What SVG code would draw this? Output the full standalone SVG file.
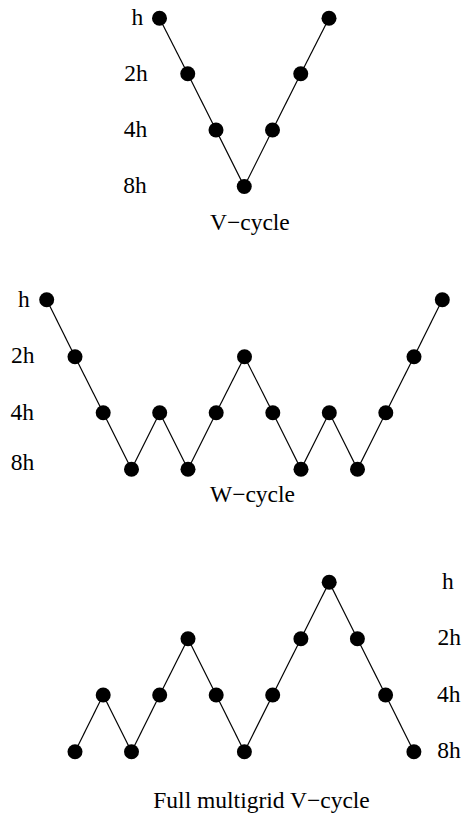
<svg xmlns="http://www.w3.org/2000/svg" width="467" height="814" viewBox="0 0 467 814">
  <style>
    .lbl { font-family: "Liberation Serif", "Times New Roman", serif; font-size: 23.5px; fill: #000; }
    .edge { stroke: #000; stroke-width: 1.2; fill: none; }
    .node { fill: #000; }
  </style>
  <defs>
    <circle id="dot" r="7.5" class="node"/>
  </defs>
  <rect width="467" height="814" fill="#fff"/>

  <!-- level labels and captions -->
  <g id="labels">
    <text class="lbl" x="131.5" y="25">h</text>
    <text class="lbl" x="124.3" y="80.5">2h</text>
    <text class="lbl" x="123.7" y="136.7">4h</text>
    <text class="lbl" x="123.2" y="193">8h</text>
    <text class="lbl" x="210" y="230">V−cycle</text>

    <text class="lbl" x="18" y="306.7">h</text>
    <text class="lbl" x="11" y="363.3">2h</text>
    <text class="lbl" x="10.4" y="420">4h</text>
    <text class="lbl" x="10.8" y="470">8h</text>
    <text class="lbl" x="210" y="501.7">W−cycle</text>

    <text class="lbl" x="442" y="589">h</text>
    <text class="lbl" x="437.6" y="645">2h</text>
    <text class="lbl" x="437" y="701.7">4h</text>
    <text class="lbl" x="437.2" y="758.3">8h</text>
    <text class="lbl" x="153.3" y="808">Full multigrid V−cycle</text>
  </g>

  <!-- connectors -->
  <g id="connectors" class="edge">
    <!-- V-cycle -->
    <line x1="159.5" y1="18.3" x2="187.75" y2="73.8"/>
    <line x1="187.75" y1="73.8" x2="216" y2="130"/>
    <line x1="216" y1="130" x2="244.25" y2="186.5"/>
    <line x1="244.25" y1="186.5" x2="272.5" y2="130"/>
    <line x1="272.5" y1="130" x2="300.75" y2="73.8"/>
    <line x1="300.75" y1="73.8" x2="329" y2="18.3"/>
    <!-- W-cycle -->
    <line x1="46.7" y1="299.7" x2="75" y2="356.7"/>
    <line x1="75" y1="356.7" x2="103.2" y2="412.7"/>
    <line x1="103.2" y1="412.7" x2="131.5" y2="469.3"/>
    <line x1="131.5" y1="469.3" x2="159.7" y2="412.7"/>
    <line x1="159.7" y1="412.7" x2="188" y2="469.3"/>
    <line x1="188" y1="469.3" x2="216.2" y2="412.7"/>
    <line x1="216.2" y1="412.7" x2="244.5" y2="356.7"/>
    <line x1="244.5" y1="356.7" x2="272.8" y2="412.7"/>
    <line x1="272.8" y1="412.7" x2="301" y2="469.3"/>
    <line x1="301" y1="469.3" x2="329.3" y2="412.7"/>
    <line x1="329.3" y1="412.7" x2="357.5" y2="469.3"/>
    <line x1="357.5" y1="469.3" x2="385.8" y2="412.7"/>
    <line x1="385.8" y1="412.7" x2="414" y2="356.7"/>
    <line x1="414" y1="356.7" x2="442.3" y2="299.7"/>
    <!-- Full multigrid V-cycle -->
    <line x1="75" y1="751.7" x2="103.2" y2="695"/>
    <line x1="103.2" y1="695" x2="131.5" y2="751.7"/>
    <line x1="131.5" y1="751.7" x2="159.7" y2="695"/>
    <line x1="159.7" y1="695" x2="188" y2="638.7"/>
    <line x1="188" y1="638.7" x2="216.2" y2="695"/>
    <line x1="216.2" y1="695" x2="244.4" y2="751.7"/>
    <line x1="244.4" y1="751.7" x2="272.7" y2="695"/>
    <line x1="272.7" y1="695" x2="300.9" y2="638.7"/>
    <line x1="300.9" y1="638.7" x2="329.2" y2="582.3"/>
    <line x1="329.2" y1="582.3" x2="357.4" y2="638.7"/>
    <line x1="357.4" y1="638.7" x2="385.6" y2="695"/>
    <line x1="385.6" y1="695" x2="413.9" y2="751.7"/>
  </g>

  <!-- V-cycle nodes -->
  <g id="v1"><use href="#dot" x="159.5" y="18.3"/></g>
  <g id="v2"><use href="#dot" x="187.75" y="73.8"/></g>
  <g id="v3"><use href="#dot" x="216" y="130"/></g>
  <g id="v4"><use href="#dot" x="244.25" y="186.5"/></g>
  <g id="v5"><use href="#dot" x="272.5" y="130"/></g>
  <g id="v6"><use href="#dot" x="300.75" y="73.8"/></g>
  <g id="v7"><use href="#dot" x="329" y="18.3"/></g>

  <!-- W-cycle nodes -->
  <g id="w1"><use href="#dot" x="46.7" y="299.7"/></g>
  <g id="w2"><use href="#dot" x="75" y="356.7"/></g>
  <g id="w3"><use href="#dot" x="103.2" y="412.7"/></g>
  <g id="w4"><use href="#dot" x="131.5" y="469.3"/></g>
  <g id="w5"><use href="#dot" x="159.7" y="412.7"/></g>
  <g id="w6"><use href="#dot" x="188" y="469.3"/></g>
  <g id="w7"><use href="#dot" x="216.2" y="412.7"/></g>
  <g id="w8"><use href="#dot" x="244.5" y="356.7"/></g>
  <g id="w9"><use href="#dot" x="272.8" y="412.7"/></g>
  <g id="w10"><use href="#dot" x="301" y="469.3"/></g>
  <g id="w11"><use href="#dot" x="329.3" y="412.7"/></g>
  <g id="w12"><use href="#dot" x="357.5" y="469.3"/></g>
  <g id="w13"><use href="#dot" x="385.8" y="412.7"/></g>
  <g id="w14"><use href="#dot" x="414" y="356.7"/></g>
  <g id="w15"><use href="#dot" x="442.3" y="299.7"/></g>

  <!-- Full multigrid nodes -->
  <g id="f1"><use href="#dot" x="75" y="751.7"/></g>
  <g id="f2"><use href="#dot" x="103.2" y="695"/></g>
  <g id="f3"><use href="#dot" x="131.5" y="751.7"/></g>
  <g id="f4"><use href="#dot" x="159.7" y="695"/></g>
  <g id="f5"><use href="#dot" x="188" y="638.7"/></g>
  <g id="f6"><use href="#dot" x="216.2" y="695"/></g>
  <g id="f7"><use href="#dot" x="244.4" y="751.7"/></g>
  <g id="f8"><use href="#dot" x="272.7" y="695"/></g>
  <g id="f9"><use href="#dot" x="300.9" y="638.7"/></g>
  <g id="f10"><use href="#dot" x="329.2" y="582.3"/></g>
  <g id="f11"><use href="#dot" x="357.4" y="638.7"/></g>
  <g id="f12"><use href="#dot" x="385.6" y="695"/></g>
  <g id="f13"><use href="#dot" x="413.9" y="751.7"/></g>
</svg>
